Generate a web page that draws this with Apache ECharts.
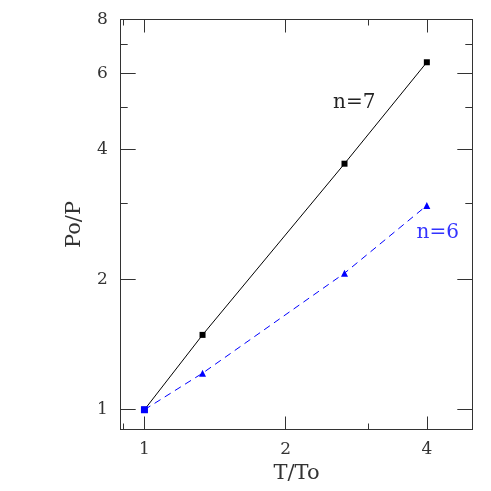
<!DOCTYPE html>
<html>
<head>
<meta charset="utf-8">
<script src="https://cdn.jsdelivr.net/npm/echarts@6/dist/echarts.min.js"></script>
<style>html,body{margin:0;padding:0;background:#fff;}#c{width:491px;height:491px;}</style>
</head>
<body>
<div id="c"></div>
<script>
// ---- data ----
const xValues = [1, 1.33, 2.67, 4];          // T/To
const seriesN7 = [1, 1.49, 3.71, 6.37];      // Po/P, n=7
const seriesN6 = [1, 1.215, 2.07, 2.97];     // Po/P, n=6
const xMajorTicks = [1, 2, 4];
const xMinorTicks = [0.9, 3];
const yMajorTicks = [1, 2, 4, 6, 8];
const yMinorTicks = [0.9, 3, 5, 7];
const xRange = [0.89, 5];
const yRange = [0.9, 8];
const labelN7 = {text: 'n=7', x: 2.80, y: 5.12};
const labelN6 = {text: 'n=6', x: 4.22, y: 2.57};

// ---- chart (log2 axes) ----
const L = Math.log2;
const FONT = 'DejaVu Serif';
const AX = '#333';

function mkX(pos, ticks, len, labels, name) {
  return {
    type: 'value', position: pos, min: L(xRange[0]), max: L(xRange[1]),
    splitLine: {show: false},
    axisLine: {show: true, onZero: false, lineStyle: {color: AX, width: 1}},
    axisTick: {show: true, inside: true, length: len, lineStyle: {color: AX}, customValues: ticks.map(L)},
    axisLabel: labels ? {show: true, customValues: ticks.map(L), margin: 12,
      formatter: v => String(Math.round(Math.pow(2, v))), fontFamily: FONT, fontSize: 17, color: '#333'} : {show: false},
    name: name || '', nameLocation: 'middle', nameGap: 31,
    nameTextStyle: {fontFamily: FONT, fontSize: 21, color: '#333'}
  };
}
function mkY(pos, ticks, len, labels, name) {
  return {
    type: 'value', position: pos, min: L(yRange[0]), max: L(yRange[1]),
    splitLine: {show: false},
    axisLine: {show: true, onZero: false, lineStyle: {color: AX, width: 1}},
    axisTick: {show: true, inside: true, length: len, lineStyle: {color: AX}, customValues: ticks.map(L)},
    axisLabel: labels ? {show: true, customValues: ticks.map(L), margin: 13,
      formatter: v => String(Math.round(Math.pow(2, v))), fontFamily: FONT, fontSize: 17, color: '#333'} : {show: false},
    name: name || '', nameLocation: 'middle', nameGap: 36, nameRotate: 90,
    nameTextStyle: {fontFamily: FONT, fontSize: 21, color: '#333'}
  };
}

const chart = echarts.init(document.getElementById('c'), null, {renderer: 'canvas'});
chart.setOption({
  animation: false,
  backgroundColor: '#fff',
  grid: {left: 120.7, top: 19.5, width: 351.6, height: 410, containLabel: false},
  xAxis: [
    mkX('bottom', xMajorTicks, 13, true, 'T/To'),
    mkX('bottom', xMinorTicks, 6, false),
    mkX('top', xMajorTicks, 13, false),
    mkX('top', xMinorTicks, 6, false)
  ],
  yAxis: [
    mkY('left', yMajorTicks, 15, true, 'Po/P'),
    mkY('left', yMinorTicks, 7, false),
    mkY('right', yMajorTicks, 15, false),
    mkY('right', yMinorTicks, 7, false)
  ],
  series: [
    {
      type: 'line', xAxisIndex: 0, yAxisIndex: 0,
      data: xValues.map((x, i) => [L(x), L(seriesN7[i])]),
      symbol: 'rect', symbolSize: 6, showAllSymbol: true,
      lineStyle: {color: '#000', width: 1},
      itemStyle: {color: '#000'},
      markPoint: {
        symbol: 'circle', symbolSize: 0,
        label: {show: true, position: 'inside', formatter: labelN7.text, fontFamily: FONT, fontSize: 20, color: '#222'},
        data: [{coord: [L(labelN7.x), L(labelN7.y)], value: 0}]
      },
      z: 2
    },
    {
      type: 'line', xAxisIndex: 0, yAxisIndex: 0,
      data: xValues.map((x, i) => ({value: [L(x), L(seriesN6[i])], symbol: i === 0 ? 'rect' : 'triangle', symbolSize: 7})),
      showAllSymbol: true,
      lineStyle: {color: '#0000ff', width: 1, type: [7, 5]},
      itemStyle: {color: '#0000ff'},
      markPoint: {
        symbol: 'circle', symbolSize: 0,
        label: {show: true, position: 'inside', formatter: labelN6.text, fontFamily: FONT, fontSize: 20, color: '#3333ff'},
        data: [{coord: [L(labelN6.x), L(labelN6.y)], value: 0}]
      },
      z: 3
    }
  ]
});
</script>
</body>
</html>
